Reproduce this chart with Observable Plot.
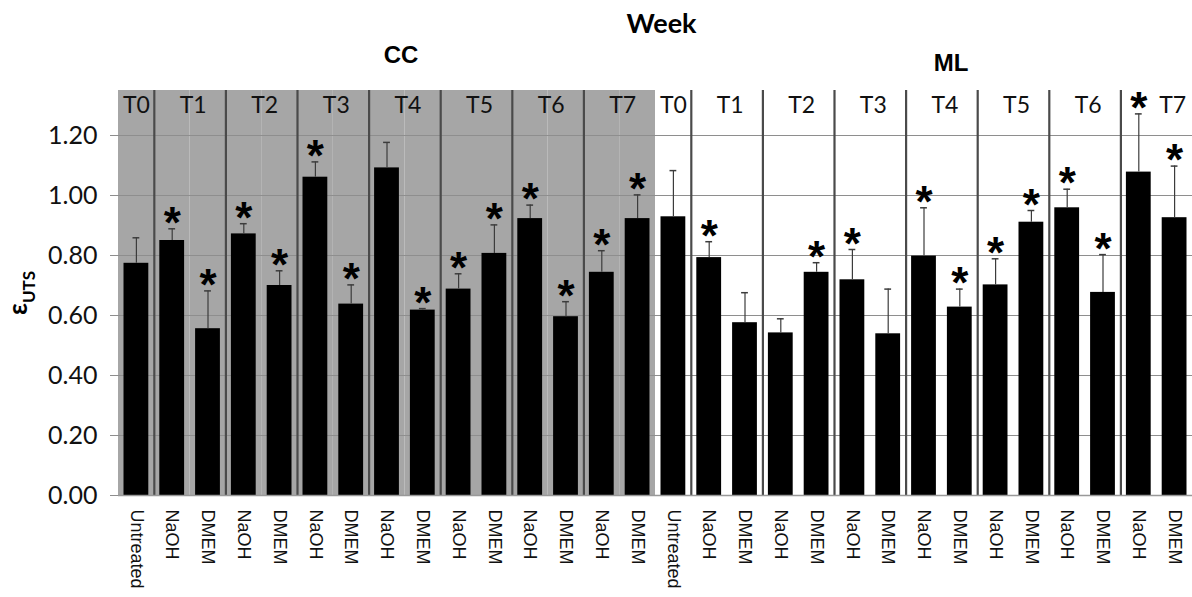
<!DOCTYPE html>
<html>
<head>
<meta charset="utf-8">
<script src="https://cdn.jsdelivr.net/npm/d3@7"></script>
<script src="https://cdn.jsdelivr.net/npm/@observablehq/plot@0.6"></script>
<style>
  body { margin: 0; background: #fff; }
  #chart svg { display: block; overflow: visible; }
  #chart g[aria-label="x-axis tick label"] text { font-family: "Liberation Sans", Arial, sans-serif; }
</style>
</head>
<body>
<div id="chart"></div>
<script>
// Sample groups (panels) and the per-panel slot layout
const panels = ["CC", "ML"];
const slotWeeks = ["T0", "T1", "T1", "T2", "T2", "T3", "T3", "T4", "T4", "T5", "T5", "T6", "T6", "T7", "T7"];
const slotTreatments = ["Untreated", "NaOH", "DMEM", "NaOH", "DMEM", "NaOH", "DMEM", "NaOH", "DMEM",
                        "NaOH", "DMEM", "NaOH", "DMEM", "NaOH", "DMEM"];

// Strain at ultimate tensile stress (mean), upper error, significance flag
const ccStrain = [0.774, 0.850, 0.556, 0.872, 0.700, 1.061, 0.638, 1.092, 0.618, 0.688, 0.807, 0.923, 0.596, 0.744, 0.923];
const ccError  = [0.085, 0.039, 0.126, 0.034, 0.049, 0.051, 0.064, 0.085, 0.005, 0.051, 0.095, 0.045, 0.050, 0.072, 0.079];
const ccSignificant = [0, 1, 1, 1, 1, 1, 1, 0, 1, 1, 1, 1, 1, 1, 1];

const mlStrain = [0.929, 0.793, 0.576, 0.542, 0.744, 0.719, 0.539, 0.798, 0.628, 0.702, 0.911, 0.959, 0.677, 1.078, 0.926];
const mlError  = [0.154, 0.053, 0.100, 0.047, 0.032, 0.101, 0.149, 0.161, 0.060, 0.087, 0.039, 0.062, 0.126, 0.194, 0.172];
const mlSignificant = [0, 1, 0, 0, 1, 1, 0, 1, 1, 1, 1, 1, 1, 1, 1];

const yTicks = [0, 0.2, 0.4, 0.6, 0.8, 1.0, 1.2];
const yDomain = [0, 1.35];

// Layout
const W = 1192, H = 597;
const mLeft = 118, mRight = 0, mTop = 90, mBottom = 102;
const slot = (W - mLeft - mRight) / (panels.length * slotWeeks.length);

// Long-format rows
const series = {
  CC: {v: ccStrain, e: ccError, s: ccSignificant},
  ML: {v: mlStrain, e: mlError, s: mlSignificant}
};
const rows = [];
panels.forEach(panel => {
  slotTreatments.forEach((t, i) => {
    rows.push({
      panel, week: slotWeeks[i], treatment: t,
      key: `${panel} ${slotWeeks[i]} ${t}`,
      value: series[panel].v[i],
      top: series[panel].v[i] + series[panel].e[i],
      sig: series[panel].s[i] === 1
    });
  });
});
const treatmentOf = new Map(rows.map(d => [d.key, d.treatment]));

// Week headers: T0 spans one slot, the others span two (start at the NaOH slot)
const weekSingles = rows.filter(d => d.week === "T0");
const weekPairs = rows.filter(d => d.treatment === "NaOH");
const lastPair = weekPairs.filter(d => d.panel === "ML" && d.week === "T7");
const otherPairs = weekPairs.filter(d => !(d.panel === "ML" && d.week === "T7"));

const panelLabels = panels.map(p => ({panel: p, key: `${p} T4 NaOH`}));

const weekFont = {fontSize: 23, fill: "#111", frameAnchor: "top", lineAnchor: "top", dy: 6};

const chart = Plot.plot({
  width: W,
  height: H,
  marginLeft: mLeft,
  marginRight: mRight,
  marginTop: mTop,
  marginBottom: mBottom,
  style: {fontFamily: "Lato", background: "white"},
  x: {type: "band", domain: rows.map(d => d.key), padding: 0, round: false, axis: null},
  y: {domain: yDomain, axis: null},
  marks: [
    // grey shading behind the CC panel
    Plot.barY(rows.filter(d => d.panel === "CC"), {x: "key", y1: yDomain[0], y2: yDomain[1], fill: "#a6a6a6"}),
    Plot.gridY(yTicks, {stroke: "#8e8e8e", strokeOpacity: 1, strokeWidth: 1.2}),
    // week separators
    Plot.ruleX(weekPairs, {x: "key", y1: yDomain[0], y2: yDomain[1], dx: -slot / 2, stroke: "#4a4a4a", strokeWidth: 2.2}),
    Plot.axisY({
      ticks: yTicks, tickFormat: d3.format(".2f"), tickSize: 8, tickPadding: 13,
      fontSize: 25, stroke: "#8e8e8e", fill: "#111", label: null
    }),
    Plot.axisX({
      tickFormat: k => treatmentOf.get(k), tickRotate: 90, tickSize: 0, tickPadding: 14,
      fontSize: 18, fill: "#111", label: null
    }),
    // bars
    Plot.barY(rows, {x: "key", y: "value", fill: "black", insetLeft: 5.5, insetRight: 5.5}),
    // upper error bars
    Plot.ruleX(rows, {x: "key", y1: "value", y2: "top", stroke: "#3c3c3c", strokeWidth: 1.2}),
    Plot.tickY(rows, {x: "key", y: "top", stroke: "#3c3c3c", strokeWidth: 1.5, insetLeft: 14.5, insetRight: 14.5}),
    // significance markers
    Plot.text(rows.filter(d => d.sig), {
      x: "key", y: "top", text: () => "*", fontSize: 44, fontWeight: "bold",
      fontFamily: "Liberation Sans", fill: "black", lineAnchor: "bottom", dy: 9
    }),
    // baseline
    Plot.ruleY([0], {stroke: "#999", strokeWidth: 1.5}),
    // week headers
    Plot.text(weekSingles, {x: "key", text: "week", ...weekFont}),
    Plot.text(otherPairs, {x: "key", text: "week", dx: slot / 2 + 3, ...weekFont}),
    Plot.text(lastPair, {x: "key", text: "week", dx: slot / 2 + 16, ...weekFont}),
    // panel titles
    Plot.text(panelLabels.filter(d => d.panel === "CC"), {
      x: "key", text: "panel", frameAnchor: "top", lineAnchor: "bottom", dy: -28, dx: 14,
      fontSize: 24, fontWeight: "bold", fontFamily: "Liberation Sans", fill: "black"
    }),
    Plot.text(panelLabels.filter(d => d.panel === "ML"), {
      x: "key", text: "panel", frameAnchor: "top", lineAnchor: "bottom", dy: -20, dx: 27,
      fontSize: 24, fontWeight: "bold", fontFamily: "Liberation Sans", fill: "black"
    }),
    // overall header
    Plot.text(["Week"], {
      text: d => d, frameAnchor: "top", lineAnchor: "bottom", dy: -58, dx: 6,
      fontSize: 27, fontWeight: "bold", fill: "black"
    })
  ]
});

// y-axis title: epsilon with UTS subscript
const svg = d3.select(chart);
const yTitle = svg.append("text")
  .attr("transform", "translate(27,293) rotate(-90)")
  .attr("text-anchor", "middle")
  .attr("font-family", "Lato")
  .attr("font-weight", "bold")
  .attr("fill", "black");
yTitle.append("tspan").attr("font-size", 26).text("ε");
yTitle.append("tspan").attr("font-size", 17).attr("dy", 8).text("UTS");

document.getElementById("chart").appendChild(chart);
</script>
</body>
</html>
